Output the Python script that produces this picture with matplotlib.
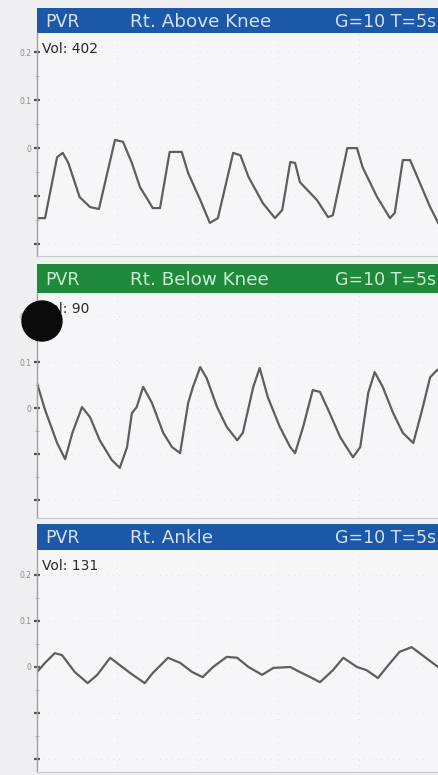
import matplotlib
matplotlib.use("Agg")
import matplotlib.pyplot as plt
from matplotlib.patches import Circle

# ---------------- data ----------------
titles = ["Rt. Above Knee", "Rt. Below Knee", "Rt. Ankle"]
volumes = [402, 90, 131]
header_colors = ["#1c58a8", "#1f8a3c", "#1c58a8"]
header_text_colors = ["#d6e2f4", "#cdeed3", "#d6e2f4"]
ytick_vals = [0.2, 0.1, 0.0, -0.1, -0.2]
ytick_labels = ["0.2", "0.1", "0", "", ""]

t_ak = [0.01, 0.10, 0.25, 0.32, 0.39, 0.53, 0.66, 0.77, 0.97, 1.07, 1.18, 1.28, 1.44, 1.53,
        1.65, 1.80, 1.88, 2.03, 2.15, 2.25, 2.44, 2.53, 2.63, 2.81, 2.96, 3.05, 3.15, 3.21,
        3.27, 3.48, 3.62, 3.68, 3.86, 3.98, 4.05, 4.23, 4.39, 4.45, 4.55, 4.64, 4.73, 4.89, 4.99]
v_ak = [-0.146, -0.146, -0.019, -0.010, -0.031, -0.102, -0.123, -0.127, 0.017, 0.013, -0.031,
        -0.081, -0.125, -0.125, -0.008, -0.008, -0.052, -0.108, -0.156, -0.146, -0.010, -0.015,
        -0.060, -0.115, -0.146, -0.129, -0.029, -0.031, -0.071, -0.108, -0.144, -0.140, 0.000,
        0.000, -0.040, -0.102, -0.146, -0.135, -0.025, -0.025, -0.060, -0.123, -0.156]

t_bk = [0.00, 0.10, 0.25, 0.35, 0.44, 0.56, 0.66, 0.78, 0.93, 1.03, 1.12, 1.18, 1.24, 1.32,
        1.43, 1.57, 1.68, 1.78, 1.88, 1.94, 2.03, 2.11, 2.24, 2.36, 2.49, 2.56, 2.69, 2.77,
        2.87, 3.02, 3.15, 3.21, 3.31, 3.43, 3.52, 3.64, 3.77, 3.93, 4.02, 4.12, 4.20, 4.30,
        4.43, 4.55, 4.68, 4.79, 4.89, 4.98]
v_bk = [0.054, -0.004, -0.076, -0.111, -0.054, 0.002, -0.020, -0.070, -0.113, -0.130, -0.085,
        -0.011, 0.002, 0.046, 0.011, -0.054, -0.085, -0.098, 0.011, 0.046, 0.089, 0.065, 0.002,
        -0.041, -0.070, -0.054, 0.046, 0.087, 0.024, -0.041, -0.085, -0.098, -0.041, 0.039,
        0.035, -0.011, -0.063, -0.107, -0.085, 0.033, 0.078, 0.046, -0.011, -0.054, -0.076,
        -0.004, 0.067, 0.083]

t_an = [0.00, 0.10, 0.22, 0.31, 0.47, 0.63, 0.75, 0.91, 1.03, 1.19, 1.34, 1.44, 1.63, 1.78,
        1.93, 2.06, 2.19, 2.36, 2.49, 2.63, 2.80, 2.94, 3.15, 3.27, 3.40, 3.52, 3.68, 3.81,
        3.98, 4.10, 4.24, 4.37, 4.51, 4.66, 4.79, 4.92, 4.99]
v_an = [-0.011, 0.009, 0.030, 0.026, -0.011, -0.035, -0.017, 0.020, 0.004, -0.017, -0.035,
        -0.013, 0.020, 0.009, -0.011, -0.022, 0.000, 0.022, 0.020, 0.000, -0.017, -0.002, 0.000,
        -0.011, -0.022, -0.033, -0.007, 0.020, 0.000, -0.007, -0.024, 0.004, 0.033, 0.043,
        0.026, 0.009, 0.000]

series = [(t_ak, v_ak), (t_bk, v_bk), (t_an, v_an)]

# ---------------- layout ----------------
W, H = 439, 775
fig = plt.figure(figsize=(W / 100, H / 100), dpi=100)
fig.patch.set_facecolor("#efeff1")


def rect(x0, y0, x1, y1):
    return [x0 / W, 1 - y1 / H, (x1 - x0) / W, (y1 - y0) / H]


headers = [(37, 8, 439, 33), (37, 264, 439, 293), (37, 524, 439, 550)]
plots = [(37, 33, 439, 256), (37, 293, 439, 518), (37, 550, 439, 772)]
ylims = [(-0.225, 0.24), (-0.239, 0.25), (-0.228, 0.254)]

for i in range(3):
    hx = fig.add_axes(rect(*headers[i]))
    hx.set_facecolor(header_colors[i])
    hx.set_xticks([]); hx.set_yticks([])
    for s in hx.spines.values():
        s.set_visible(False)
    tc = header_text_colors[i]
    hx.text(0.02, 0.45, "PVR", color=tc, fontsize=12.5, va="center", ha="left",
            transform=hx.transAxes)
    hx.text(0.232, 0.45, titles[i], color=tc, fontsize=13.2, va="center", ha="left",
            transform=hx.transAxes)
    hx.text(0.993, 0.45, "G=10 T=5s", color=tc, fontsize=12.5, va="center", ha="right",
            transform=hx.transAxes)

    ax = fig.add_axes(rect(*plots[i]))
    ax.set_facecolor("#f6f6f8")
    t, v = series[i]
    ax.plot(t, v, color="#5e5e5e", lw=1.6, solid_joinstyle="round")
    ax.set_xlim(0, 5)
    ax.set_ylim(*ylims[i])
    ax.set_xticks([1, 2, 3, 4])
    ax.set_xticklabels([])
    ax.tick_params(axis="x", length=0)
    ax.set_yticks(ytick_vals)
    ax.set_yticklabels(ytick_labels, fontsize=5.5, color="#8a8a8a")
    ax.set_yticks([0.15, 0.05, -0.05, -0.15], minor=True)
    ax.tick_params(axis="y", which="major", direction="inout", length=4, width=1.6,
                   color="#555555", pad=2)
    ax.tick_params(axis="y", which="minor", direction="inout", length=3, width=0.8,
                   color="#bbbbbb")
    ax.grid(True, which="major", color="#dcdcde", lw=0.6, ls=(0, (1, 6)))
    ax.spines["left"].set_color("#a0a0a0")
    ax.spines["left"].set_linewidth(1.0)
    ax.spines["bottom"].set_color("#c8c8cc")
    ax.spines["right"].set_color("#d0d0d4")
    ax.spines["top"].set_visible(False)
    ax.text(0.013, 0.93, f"Vol: {volumes[i]}", transform=ax.transAxes, fontsize=10,
            color="#2a2a2a", ha="left", va="center")

# black dot in the second panel
fig.add_artist(Circle((0.42, (H - 321) / 100), 0.20, transform=fig.dpi_scale_trans,
                      color="#0a0a0a", zorder=10))

fig.savefig("out.png", dpi=100, facecolor=fig.get_facecolor())
